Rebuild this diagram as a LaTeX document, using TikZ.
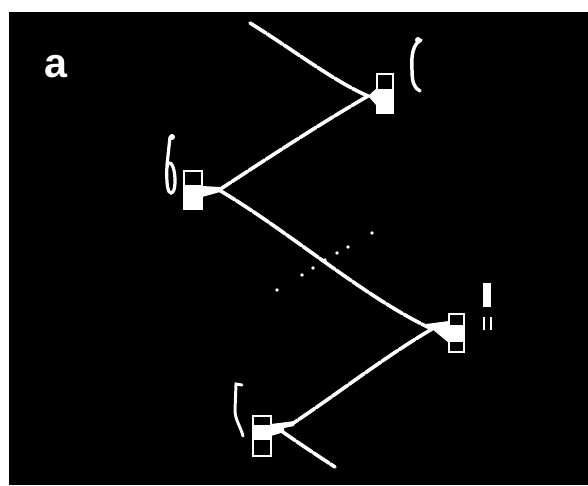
\documentclass[tikz,border=0pt]{standalone}
\usepackage{fontspec}
\setsansfont{Liberation Sans}

\tikzset{every picture/.style={line width=0.75pt}}
\tikzset{fibre/.style={draw=white, line width=2.7, line cap=round, dash pattern=on 14pt off 1.2pt},
  cellbox/.style={draw=white, line width=2},
  speck/.style={fill=white}}

\begin{document}
\begin{tikzpicture}[x=0.75pt,y=0.75pt,yscale=-1,xscale=1]
\useasboundingbox (0,0) rectangle (588,485);
%Frame
\fill [white] (0,0) rectangle (588,485);
\fill [black] (9,12) rectangle (588,485);

%Junctions
\coordinate (topin) at (250,23);
\coordinate (jtop) at (368,96);
\coordinate (jleft) at (219,190);
\coordinate (jright) at (432,329);
\coordinate (jbot) at (292,424);
\coordinate (botout) at (335,467);

%Curve Lines
\draw [fibre] (topin) .. controls (292,49) and (335,82) .. (jtop);
\draw [fibre] (jtop) .. controls (318,125) and (268,158) .. (jleft);
\draw [fibre] (jleft) .. controls (290,232) and (365,298) .. (jright);
\draw [fibre] (jright) .. controls (383,358) and (340,392) .. (jbot);
\draw [fibre] (280,430) .. controls (300,444) and (318,456) .. (botout);

%Shape: top box
\draw [cellbox] (377,74) rectangle (393,113);
\fill [white] (377,89) rectangle (393,113);
\fill [white] (jtop) -- (377,88) -- (377,106) -- cycle;
%Shape: left box
\draw [cellbox] (184,171) rectangle (202,209);
\fill [white] (184,185) rectangle (202,209);
\fill [white] (202,186) -- (220,187) -- (220,192) -- (202,197) -- cycle;
%Shape: right box
\draw [cellbox] (449,314) rectangle (464,352);
\fill [white] (449,325) rectangle (464,342);
\fill [white] (449,321) -- (426,324) -- (jright) -- (449,343) -- cycle;
%Shape: bottom box
\draw [cellbox] (253,416) rectangle (271,456);
\fill [white] (253,425) rectangle (271,440);
\fill [white] (271,424) -- (295,421) -- (294,426) -- (284,428) -- (284,432) -- (271,436) -- cycle;

%Shape: side marks
\draw [white, line width=2.6, line cap=round] (421,40) .. controls (413,44) and (411,55) .. (412,70) .. controls (412,82) and (414,88) .. (420,91);
\fill [white] (418,40) circle (3);
\draw [white, line width=2.4, line cap=round] (170,137) -- (167,165) .. controls (166,185) and (168,193) .. (171,193) .. controls (176,193) and (176,175) .. (173,167) .. controls (170,160) and (167,163) .. (167,168);
\fill [white] (172,137) circle (3);
\fill [white] (483,283) rectangle (491,307);
\draw [white, line width=1.6] (484,317) -- (484,330) (491,317) -- (491,330);
\draw [white, line width=2.2, line cap=round] (242,385) -- (236,384) -- (235,410) .. controls (235,420) and (240,425) .. (243,436);

%Shape: specks
\foreach \px/\py in {372/233, 348/247, 337/253, 325/260, 313/268, 302/275, 277/290}
  \fill [speck] (\px,\py) circle (1.8);

% Text Node
\draw (56,67) node [anchor=center] [inner sep=0.75pt, text=white, font=\sffamily\bfseries\fontsize{31}{31}\selectfont] {a};

\end{tikzpicture}
\end{document}
